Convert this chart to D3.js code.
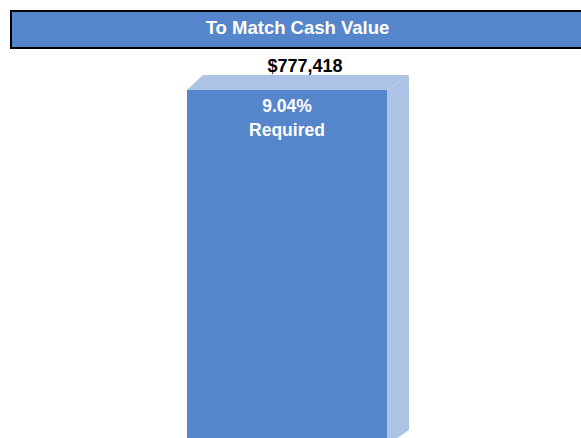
<!DOCTYPE html>
<html lang="en">
<head>
<meta charset="UTF-8">
<title>To Match Cash Value</title>
<script src="https://d3js.org/d3.v7.min.js"></script>
<style>
    body { margin: 0; padding: 0; background: #fff; overflow: hidden; }
    svg { display: block; font-family: "Liberation Sans", Arial, sans-serif; }
</style>
</head>
<body>
<script>
    // data
    const categories = ["Cash Value"];
    const values = [777418];
    const rates = ["9.04%"];
    const title = "To Match Cash Value";

    const width = 581, height = 438;
    const front = "#5585CA", side = "#ADC3E6";

    const svg = d3.select("body").append("svg")
        .attr("width", width)
        .attr("height", height);

    // title box
    svg.append("rect")
        .attr("x", 11).attr("y", 11)
        .attr("width", 580).attr("height", 37)
        .attr("fill", front)
        .attr("stroke", "#000")
        .attr("stroke-width", 2);
    svg.append("text")
        .attr("x", 297.5).attr("y", 34)
        .attr("text-anchor", "middle")
        .attr("fill", "#fff")
        .attr("font-weight", "bold")
        .attr("font-size", 18.5)
        .text(title);

    // scales
    const x = d3.scaleBand().domain(categories).range([187, 387]).padding(0);
    const y = d3.scaleLinear().domain([0, 777418]).range([445, 90]);

    // 3d depth offset
    const dxL = 16, dxR = 22, dy = 15;

    const g = svg.append("g");
    categories.forEach((c, i) => {
        const x0 = x(c), x1 = x(c) + x.bandwidth();
        const yt = y(values[i]), yb = y(0);

        // top face
        g.append("path")
            .attr("d", `M${x0},${yt} L${x0 + dxL},${yt - dy} L${x1 + dxR},${yt - dy} L${x1},${yt} Z`)
            .attr("fill", side);
        // side face
        g.append("path")
            .attr("d", `M${x1},${yt} L${x1 + dxR},${yt - dy} L${x1 + dxR},${yb - dy} L${x1},${yb} Z`)
            .attr("fill", side);
        // front face
        g.append("rect")
            .attr("x", x0).attr("y", yt)
            .attr("width", x.bandwidth())
            .attr("height", yb - yt)
            .attr("fill", front);

        // value label
        g.append("text")
            .attr("x", (x0 + x1 + dxR + dxL) / 2 - 1)
            .attr("y", yt - dy - 3)
            .attr("text-anchor", "middle")
            .attr("font-weight", "bold")
            .attr("font-size", 18)
            .attr("fill", "#000")
            .text(d3.format("$,")(values[i]));

        // rate label
        g.append("text")
            .attr("x", (x0 + x1) / 2)
            .attr("y", yt + 22)
            .attr("text-anchor", "middle")
            .attr("font-weight", "bold")
            .attr("font-size", 17.5)
            .attr("fill", "#fff")
            .text(rates[i]);
        g.append("text")
            .attr("x", (x0 + x1) / 2)
            .attr("y", yt + 46)
            .attr("text-anchor", "middle")
            .attr("font-weight", "bold")
            .attr("font-size", 17.5)
            .attr("fill", "#fff")
            .text("Required");
    });
</script>
</body>
</html>
